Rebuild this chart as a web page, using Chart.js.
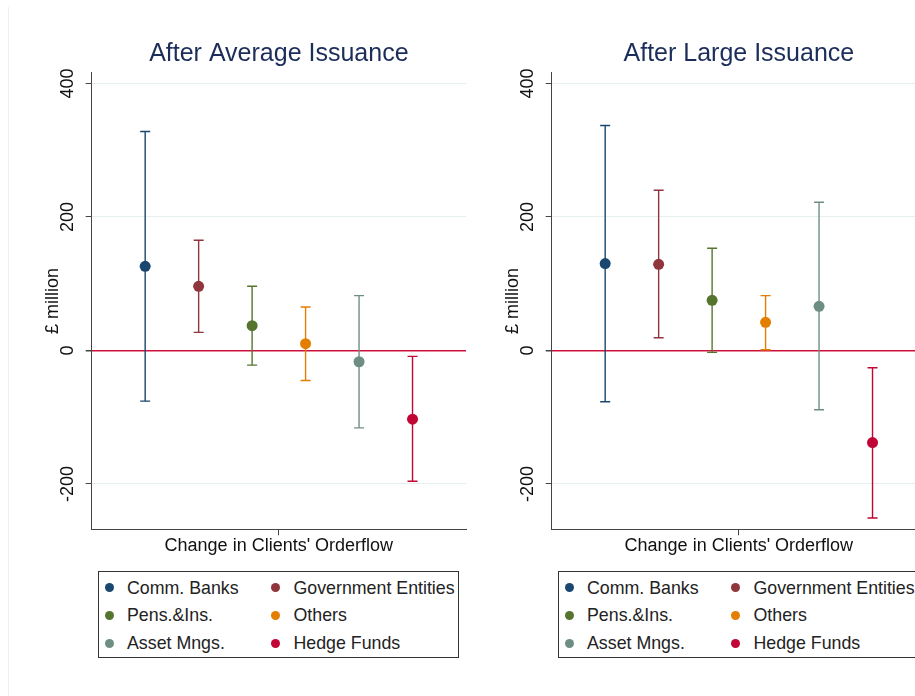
<!DOCTYPE html>
<html>
<head>
<meta charset="utf-8">
<script src="https://cdn.jsdelivr.net/npm/chart.js@4/dist/chart.umd.min.js"></script>
<style>
  body { margin: 0; width: 915px; height: 696px; overflow: hidden; background: #fff; position: relative;
         font-family: "Liberation Sans", Arial, sans-serif; }
  canvas { position: absolute; top: 0; }
  #edge { position: absolute; left: 8px; top: 7px; bottom: 0; width: 1px; background: #edf1f1; }
  .legend { position: absolute; top: 571px; width: 361px; height: 87px; border: 1px solid #333; box-sizing: border-box; }
  .legend .dot { position: absolute; width: 9px; height: 9px; border-radius: 50%; }
  .legend .txt { position: absolute; font-size: 17.8px; color: #222; line-height: 20px; white-space: nowrap; }
</style>
</head>
<body>
<div id="edge"></div>
<canvas id="avgChart" width="558" height="560" style="left:0px"></canvas>
<canvas id="largeChart" width="558" height="560" style="left:460px"></canvas>
<div class="legend" id="avgLegend" style="left:98px"></div>
<div class="legend" id="largeLegend" style="left:558px"></div>
<script>
const groups = ['Comm. Banks', 'Government Entities', 'Pens.&Ins.', 'Others', 'Asset Mngs.', 'Hedge Funds'];
const groupPos = [1, 2, 3, 4, 5, 6];
const colors = ['#1a476f', '#90353b', '#55752f', '#e37e00', '#6e8e84', '#c10534'];

// after average issuance
const avgEstimate = [126, 96, 37, 10, -17, -103];
const avgLower = [-76, 27, -22, -45, -116, -196];
const avgUpper = [328, 165, 96, 65, 82, -9];

// after large issuance
const largeEstimate = [130, 129, 75, 42, 66, -138];
const largeLower = [-77, 19, -3, 1, -89, -251];
const largeUpper = [337, 240, 153, 82, 222, -26];

const yTicks = [-200, 0, 200, 400];
const yMin = -268, yMax = 416;
const FONT = '"Liberation Sans", Arial, sans-serif';

// rotated y tick labels + panel title centred over the plot area
const panelText = {
    id: 'panelText',
    afterDraw(chart, args, opts) {
        const s = chart.scales.y;
        const area = chart.chartArea;
        const ctx = chart.ctx;
        ctx.save();
        ctx.textAlign = 'center';
        ctx.textBaseline = 'middle';
        ctx.fillStyle = '#1c2d5a';
        ctx.font = '25px ' + FONT;
        ctx.fillText(opts.title, (area.left + area.right) / 2, 54);
        ctx.fillStyle = '#111';
        ctx.font = '18px ' + FONT;
        yTicks.forEach(v => {
            ctx.save();
            ctx.translate(s.right - 23.5, s.getPixelForValue(v));
            ctx.rotate(-Math.PI / 2);
            ctx.fillText(String(v), 0, 0);
            ctx.restore();
        });
        ctx.restore();
    }
};

function makeChart(id, title, est, lo, hi) {
    const datasets = [];
    groups.forEach((g, i) => {
        datasets.push({
            label: g,
            data: [{x: groupPos[i], y: est[i]}],
            backgroundColor: colors[i],
            pointRadius: 5.5,
            pointBorderWidth: 0,
            order: 0
        });
        datasets.push({
            label: g + ' CI',
            data: [{x: groupPos[i], y: lo[i]}, {x: groupPos[i], y: hi[i]}],
            showLine: true,
            borderColor: colors[i],
            borderWidth: 1.4,
            pointStyle: 'line',
            pointRadius: 5,
            pointBorderColor: colors[i],
            pointBorderWidth: 1.4,
            order: 1
        });
    });

    return new Chart(document.getElementById(id), {
        type: 'scatter',
        data: { datasets },
        plugins: [panelText],
        options: {
            responsive: false,
            animation: false,
            events: [],
            layout: { padding: { left: 0, right: 92, top: 72.7, bottom: 0 } },
            plugins: {
                legend: { display: false },
                tooltip: { enabled: false },
                title: { display: false },
                panelText: { title: title }
            },
            scales: {
                x: {
                    type: 'linear',
                    min: 0,
                    max: 7,
                    afterBuildTicks: s => { s.ticks = [{value: 3.5}]; },
                    afterFit: s => { s.height = 30.7; },
                    ticks: { display: false },
                    grid: { drawOnChartArea: false, drawTicks: true, tickLength: 6, tickColor: '#444' },
                    border: { color: '#444', width: 1 },
                    title: {
                        display: true,
                        text: "Change in Clients' Orderflow",
                        color: '#111',
                        font: { family: FONT, size: 18 },
                        padding: { top: 0, bottom: 2.7 }
                    }
                },
                y: {
                    min: yMin,
                    max: yMax,
                    afterBuildTicks: s => { s.ticks = yTicks.map(v => ({value: v})); },
                    afterFit: s => { s.width = 91.7; },
                    ticks: { display: false },
                    grid: {
                        color: c => (c.tick && c.tick.value === 0) ? '#d0103a' : '#e6eeef',
                        lineWidth: c => (c.tick && c.tick.value === 0) ? 1.5 : 1,
                        tickLength: 6,
                        tickColor: '#444'
                    },
                    border: { color: '#444', width: 1 },
                    title: {
                        display: true,
                        text: '£ million',
                        color: '#111',
                        font: { family: FONT, size: 18 },
                        padding: { top: 42.5, bottom: 0 }
                    }
                }
            }
        }
    });
}

function makeLegend(id) {
    const box = document.getElementById(id);
    const rowY = [15.7, 43, 71];
    groups.forEach((g, i) => {
        const col = i % 2, row = Math.floor(i / 2);
        const dot = document.createElement('div');
        dot.className = 'dot';
        dot.style.background = colors[i];
        dot.style.left = (col === 0 ? 10.5 : 176.5) - 4.5 + 'px';
        dot.style.top = rowY[row] - 4.5 + 'px';
        box.appendChild(dot);
        const txt = document.createElement('div');
        txt.className = 'txt';
        txt.textContent = g;
        txt.style.left = (col === 0 ? 28 : 194.5) + 'px';
        txt.style.top = rowY[row] - 10 + 'px';
        box.appendChild(txt);
    });
}

makeChart('avgChart', 'After Average Issuance', avgEstimate, avgLower, avgUpper);
makeChart('largeChart', 'After Large Issuance', largeEstimate, largeLower, largeUpper);
makeLegend('avgLegend');
makeLegend('largeLegend');
</script>
</body>
</html>
